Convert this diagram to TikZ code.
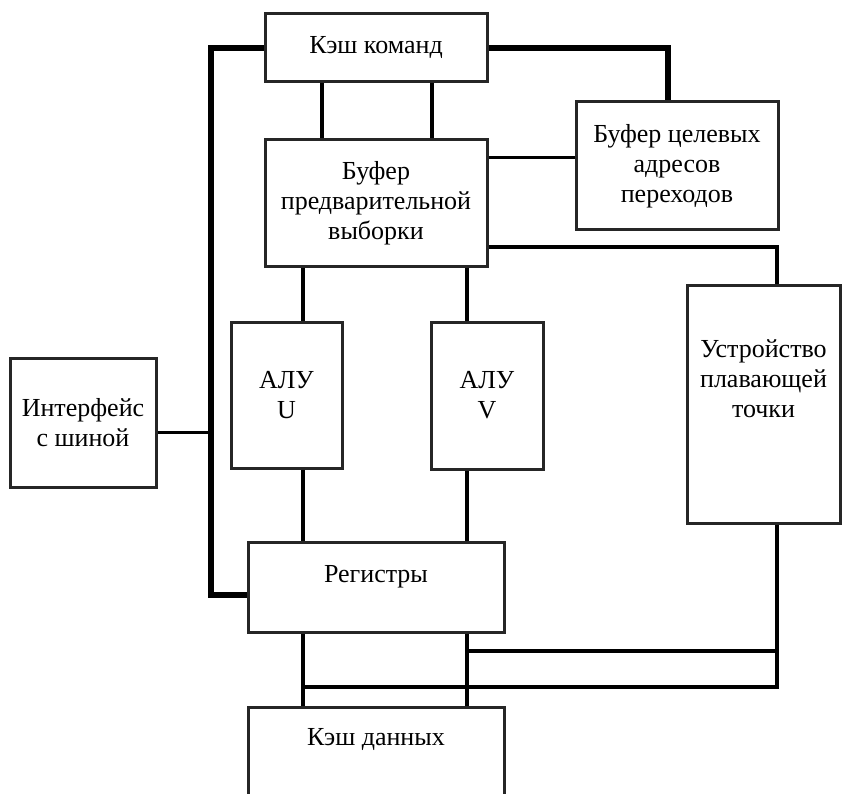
\documentclass[tikz,border=0pt]{standalone}
\usepackage{fontspec}
\setmainfont{Liberation Serif}
\usepackage{tikz}
\usetikzlibrary{calc}

\begin{document}
\begin{tikzpicture}[x=1pt,y=-1pt,
	box/.style={draw=black!85,line width=3pt,fill=white,align=center,inner sep=2pt,font=\fontsize{26}{30}\selectfont},
	lbl/.style={align=center,inner sep=0pt,font=\fontsize{26}{30}\selectfont},
	link/.style={line width=3.2pt},
	bus/.style={line width=5.5pt}]
	\useasboundingbox (0,0) rectangle (843,794);
	\clip (0,0) rectangle (843,794);
	% columns and rows of the wiring
	\coordinate (colu) at (303,0);
	\coordinate (colv) at (467,0);
	\coordinate (colf) at (777,0);
	\coordinate (rowa) at (0,651);
	\coordinate (rowb) at (0,687);
	\coordinate (busbot) at (211,595);
	% blocks
	\node[box,minimum width=222pt,minimum height=68pt] (icache) at (376,48) {Кэш команд};
	\node[box,minimum width=202pt,minimum height=128pt] (btb) at (677,166) {Буфер целевых\\адресов\\переходов};
	\node[box,minimum width=222pt,minimum height=127pt] (pbuf) at (376,203.5) {Буфер\\предварительной\\выборки};
	\node[box,minimum width=111pt,minimum height=146pt] (aluu) at (286.5,395) {АЛУ\\U};
	\node[box,minimum width=112pt,minimum height=147pt] (aluv) at (487,395.5) {АЛУ\\V};
	\node[box,minimum width=153pt,minimum height=237pt] (fpu) at (763.5,404.5) {};
	\node[lbl] (fputext) at ([yshift=26pt]fpu.center) {Устройство\\плавающей\\точки};
	\node[box,minimum width=146pt,minimum height=129pt] (bif) at (83,422.5) {Интерфейс\\с шиной};
	\node[box,minimum width=256pt,minimum height=90pt] (regs) at (376,587) {};
	\node[lbl] (regstext) at ([yshift=10pt]regs.center) {Регистры};
	\node[box,minimum width=256pt,minimum height=130pt] (dcache) at (376,772) {};
	\node[lbl] (dcachetext) at ([yshift=-34pt]dcache.north) {Кэш данных};
	% bus on the left
	\draw[bus] (icache.west) -| (busbot) -- (busbot -| regs.west);
	\draw[link] ([yshift=-10pt]bif.east) -- ([yshift=-10pt]bif.east -| busbot);
	% instruction cache
	\draw[bus] (icache.east) -| ([xshift=-9pt]btb.north);
	\draw[link] ([xshift=-54pt]icache.south) -- ([xshift=-54pt]pbuf.north);
	\draw[link] ([xshift=56pt]icache.south) -- ([xshift=56pt]pbuf.north);
	% prefetch buffer
	\draw[link] ([yshift=46pt]pbuf.east) -- ([yshift=46pt]pbuf.east -| btb.west);
	\draw[link,line width=4pt] ([yshift=-44pt]pbuf.east) -| (fpu.north -| colf);
	\draw[link] (pbuf.south -| colu) -- (aluu.north -| colu);
	\draw[link] (pbuf.south -| colv) -- (aluv.north -| colv);
	% ALUs to registers
	\draw[link] (aluu.south -| colu) -- (regs.north -| colu);
	\draw[link] (aluv.south -| colv) -- (regs.north -| colv);
	% registers, FPU and data cache
	\draw[link] (regs.south -| colu) -- (dcache.north -| colu);
	\draw[link] (regs.south -| colv) -- (dcache.north -| colv);
	\draw[link] (fpu.south -| colf) |- (rowb -| colu);
	\draw[link] (rowa -| colv) -- (rowa -| colf);
\end{tikzpicture}
\end{document}
